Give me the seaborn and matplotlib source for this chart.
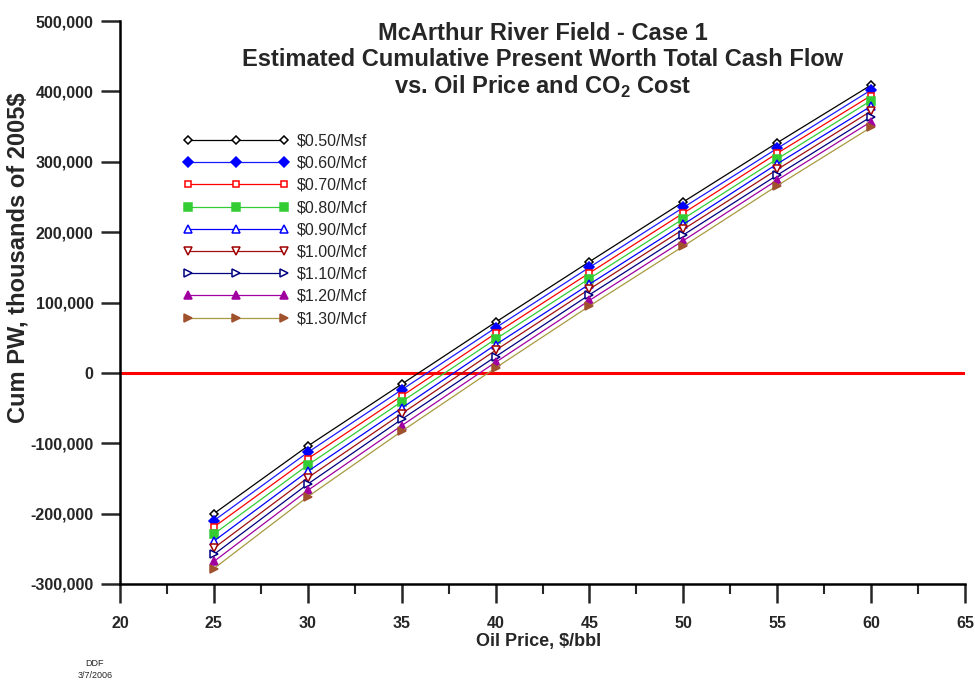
import matplotlib
matplotlib.use("Agg")
import matplotlib.pyplot as plt
import seaborn as sns
import numpy as np
import pandas as pd
from matplotlib.ticker import FuncFormatter, MultipleLocator

sns.set_style("white")
plt.rcParams['font.family'] = ['Liberation Sans', 'DejaVu Sans']
plt.rcParams['mathtext.fontset'] = 'custom'
plt.rcParams['mathtext.rm'] = 'Liberation Sans:bold'
plt.rcParams['mathtext.bf'] = 'Liberation Sans:bold'

oil_price = [25, 30, 35, 40, 45, 50, 55, 60]

# Cumulative PW, thousands of 2005$
pw_050 = [-200000, -104000, -16000, 72000, 158000, 243000, 327000, 409000]
pw_060 = [-210000, -113000, -24000, 64000, 150000, 235000, 319000, 402000]
pw_070 = [-219000, -122000, -33000, 56000, 142000, 227000, 312000, 394000]
pw_080 = [-229000, -131000, -41000, 48000, 134000, 219000, 304000, 387000]
pw_090 = [-239000, -140000, -50000, 40000, 126000, 211000, 297000, 379000]
pw_100 = [-249000, -149000, -58000, 32000, 119000, 204000, 289000, 372000]
pw_110 = [-258000, -158000, -66000, 23000, 111000, 196000, 281000, 364000]
pw_120 = [-268000, -167000, -75000, 15000, 103000, 188000, 274000, 357000]
pw_130 = [-278000, -176000, -83000, 7000, 95000, 180000, 266000, 349000]

labels = ["$0.50/Msf", "$0.60/Mcf", "$0.70/Mcf", "$0.80/Mcf", "$0.90/Mcf",
          "$1.00/Mcf", "$1.10/Mcf", "$1.20/Mcf", "$1.30/Mcf"]
series = [pw_050, pw_060, pw_070, pw_080, pw_090, pw_100, pw_110, pw_120, pw_130]

x_ticks = [20, 25, 30, 35, 40, 45, 50, 55, 60, 65]
y_ticks = [-300000, -200000, -100000, 0, 100000, 200000, 300000, 400000, 500000]

# styles: (line color, marker, marker edge color, marker face color)
styles = [
    ("#000000", "D", "#000000", "white"),
    ("#1a1aff", "D", "#0000ff", "#0000ff"),
    ("#ff0000", "s", "#ff0000", "white"),
    ("#33cc33", "s", "#33cc33", "#33cc33"),
    ("#0000ff", "^", "#0000ff", "white"),
    ("#a01010", "v", "#a00000", "white"),
    ("#000080", ">", "#000080", "white"),
    ("#a000a0", "^", "#a000a0", "#a000a0"),
    ("#a89a40", ">", "#a0522d", "#a0522d"),
]
msizes = [4.0, 4.8, 5.0, 5.2, 5.2, 5.2, 5.2, 5.2, 5.6]

fig = plt.figure(figsize=(9.75, 6.82), dpi=100)
ax = fig.add_axes([120/975, 1-584/682, 845/975, 563/682])

for lab, vals, (lc, mk, mec, mfc), ms in zip(labels, series, styles, msizes):
    df = pd.DataFrame({"x": oil_price, "y": vals})
    sns.lineplot(data=df, x="x", y="y", ax=ax, color=lc, linewidth=0.9,
                 marker=mk, markersize=ms, markeredgecolor=mec,
                 markerfacecolor=mfc, markeredgewidth=1.1, label=lab)

ax.axhline(0, color="#ff0000", linewidth=2.2, zorder=1)

ax.set_xlim(20, 65)
ax.set_ylim(-300000, 500000)
ax.set_xticks(x_ticks)
ax.set_yticks(y_ticks)
ax.xaxis.set_minor_locator(MultipleLocator(2.5))
ax.yaxis.set_major_formatter(FuncFormatter(lambda v, p: f"{int(round(v)):,}"))
ax.xaxis.set_major_formatter(FuncFormatter(lambda v, p: f"{int(round(v))}"))

for s in ["top", "right"]:
    ax.spines[s].set_visible(False)
for s in ["left", "bottom"]:
    ax.spines[s].set_linewidth(1.8)
    ax.spines[s].set_color("black")

ax.tick_params(axis="both", which="major", direction="out", length=14, width=1.8,
               labelsize=11.5, left=True, bottom=True)
ax.tick_params(axis="y", which="major", pad=5)
ax.tick_params(axis="x", which="major", pad=9)
ax.tick_params(axis="x", which="minor", direction="out", length=7, width=1.5, bottom=True)
for t in ax.get_xticklabels() + ax.get_yticklabels():
    t.set_fontweight("bold")

ax.set_xlabel("Oil Price, $/bbl", fontsize=13, fontweight="bold")
ax.set_ylabel("Cum PW, thousands of 2005$", fontsize=17, fontweight="bold")
ax.xaxis.set_label_coords(0.495, -0.087)
ax.yaxis.set_label_coords(-0.107, 0.58)

leg = ax.legend(loc="upper left", bbox_to_anchor=(0.075, 0.80), frameon=False,
                numpoints=3, handlelength=6.6, handletextpad=0.5,
                labelspacing=0.45, fontsize=11.5, borderpad=0.0, borderaxespad=0.0)

cx = (120 + 965) / 2 / 975
fig.text(cx, 1 - 33/682, "McArthur River Field - Case 1", ha="center", va="center",
         fontsize=17, fontweight="bold")
fig.text(cx, 1 - 60/682, "Estimated Cumulative Present Worth Total Cash Flow",
         ha="center", va="center", fontsize=17, fontweight="bold")
fig.text(cx, 1 - 87/682, r"vs. Oil Price and CO$_\mathbf{2}$ Cost",
         ha="center", va="center", fontsize=17, fontweight="bold")

fig.text(95/975, 1 - 663/682, "DDF", ha="center", va="center", fontsize=6.5)
fig.text(95/975, 1 - 676/682, "3/7/2006", ha="center", va="center", fontsize=6.5)

fig.savefig("out.png", dpi=100)
